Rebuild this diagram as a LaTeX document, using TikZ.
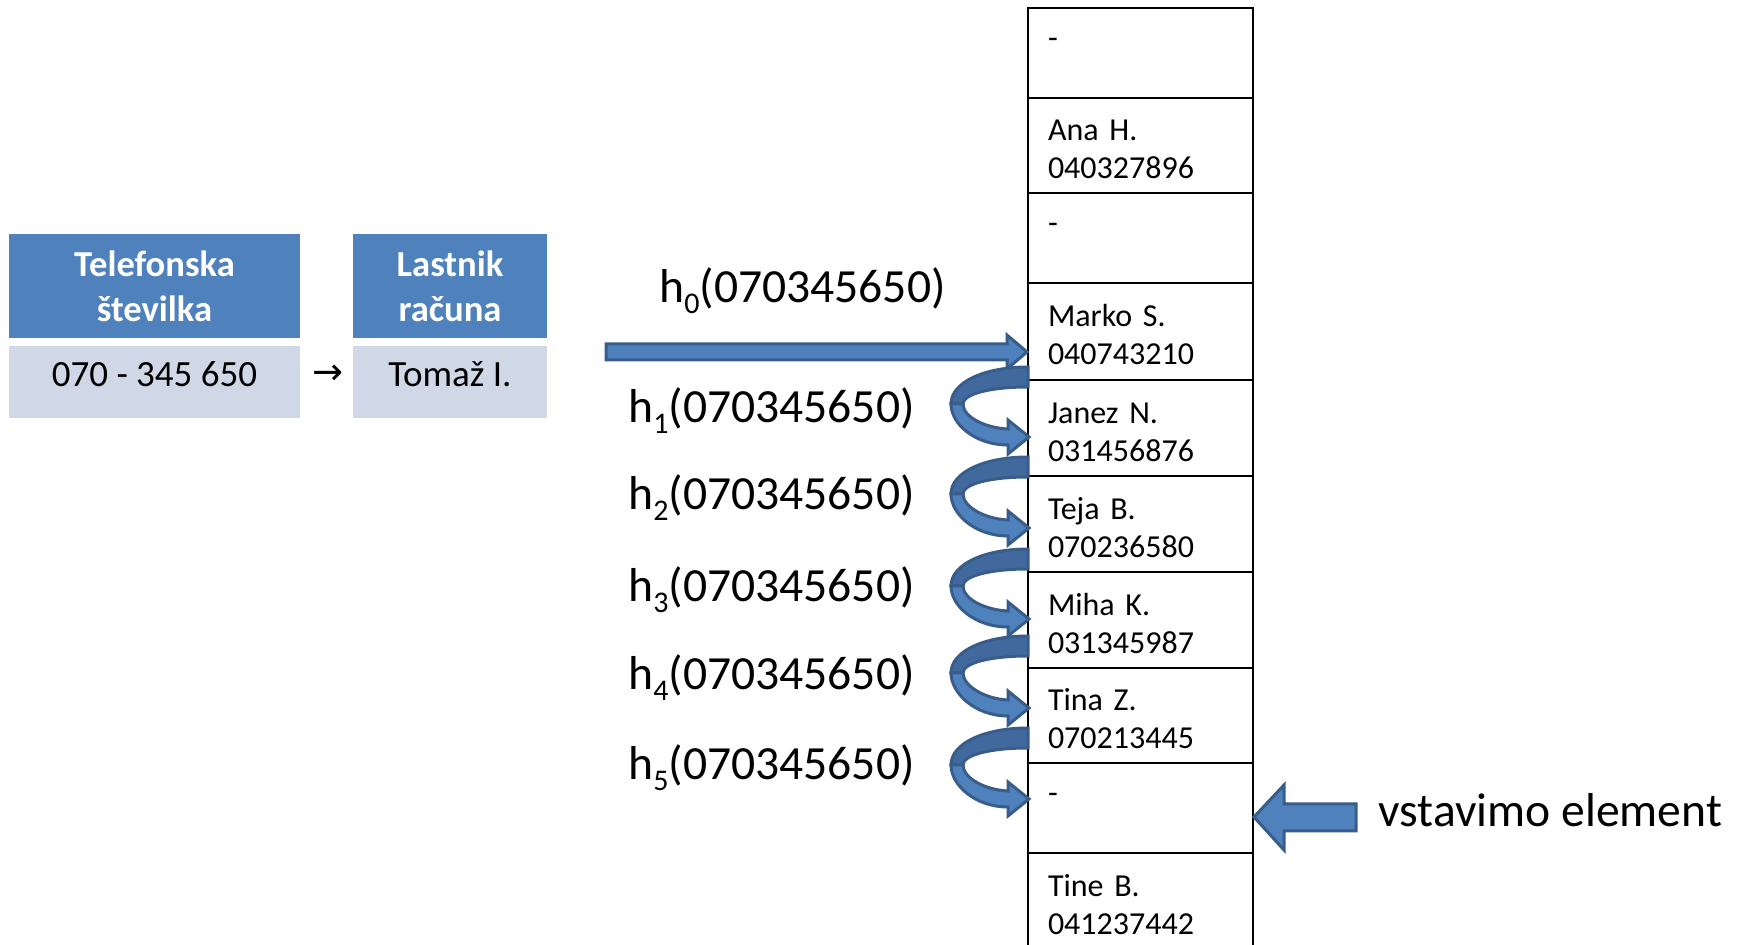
\documentclass[tikz,border=0pt]{standalone}
\usepackage{fontspec}
\setmainfont{Carlito}
\newfontfamily\arrowfont{DejaVu Sans}
\usetikzlibrary{positioning}

\definecolor{hblue}{HTML}{4F81BD}
\definecolor{hblueline}{HTML}{385D8A}
\definecolor{hblueback}{HTML}{41699E}
\definecolor{hlight}{HTML}{D0D8E8}

\newcommand\hsub[1]{\raisebox{-5.5pt}{\fontsize{15}{15}\selectfont #1}}
\newcommand\celltop{\rule{0pt}{14.5pt}}

% one probe: #1 = y of the band at the table, #2 = y of the tip
\newcommand\hcurl[2]{%
\draw[backband] (1028,#1-10) .. controls (985,#1-10) and (951,#1+5) .. (951,#1+27)
  -- (963,#1+27) .. controls (963,#1+17) and (990,#1+10) .. (1028,#1+10) -- cycle;
\draw[blockarrow] (951,#1+27) .. controls (951,#1+47) and (975,#2+8) .. (1008,#2+8)
  -- (1008,#2+17) -- (1029,#2) -- (1008,#2-17) -- (1008,#2-8)
  .. controls (985,#2-9) and (963,#1+40) .. (963,#1+27) -- cycle;
}

\tikzset{
headbox/.style={fill=hblue, text=white, font={\fontsize{18.3}{22.5}\selectfont\bfseries},
  align=center, inner sep=0pt, outer sep=0pt, minimum height=52pt},
valbox/.style={fill=hlight, font={\fontsize{18.5}{22.5}\selectfont}, inner sep=0pt,
  outer sep=0pt, minimum height=36pt, text height=12.5pt, text depth=8pt},
cell/.style={draw=black, line width=1.35pt, anchor=north west, outer sep=0pt,
  inner xsep=10pt, inner ysep=0pt, text width=92.5pt, align=left,
  font={\fontsize{16}{19}\selectfont}},
hlabel/.style={anchor=base west, inner sep=0pt, font={\fontsize{23.8}{28}\selectfont}},
blockarrow/.style={fill=hblue, draw=hblueline, line width=1.5pt},
backband/.style={fill=hblueback, draw=hblueline, line width=1.5pt}
}

\begin{document}
\begin{tikzpicture}[x=0.5pt, y=-0.5pt]

\useasboundingbox (0,0) rectangle (1742,945);

% key and value
\node [headbox, anchor=north west, minimum width=145.5pt] (tel) at (9,234) {Telefonska\\številka};
\node [headbox, right=26.5pt of tel, minimum width=97pt] (owner) {Lastnik\\računa};
\node [valbox, below=4pt of tel, minimum width=145.5pt] (telval) {070 - 345 650};
\node [valbox, below=4pt of owner, minimum width=97pt] (ownerval) {Tomaž I.};
\node [font={\fontsize{18.5}{18.5}\selectfont\arrowfont}, inner sep=0pt, right=6pt of telval,
yshift=3.5pt] (maps) {→};

% hash table
\node [cell, minimum height=45pt] (r1) at (1028,8) {\celltop-\\\phantom{0}};
\node [cell, minimum height=47.5pt, below=0pt of r1] (r2) {\celltop Ana H.\\040327896};
\node [cell, minimum height=45pt, below=0pt of r2] (r3) {\celltop-\\\phantom{0}};
\node [cell, minimum height=48.5pt, below=0pt of r3] (r4) {\celltop Marko S.\\040743210};
\node [cell, minimum height=48pt, below=0pt of r4] (r5) {\celltop Janez N.\\031456876};
\node [cell, minimum height=48pt, below=0pt of r5] (r6) {\celltop Teja B.\\070236580};
\node [cell, minimum height=48pt, below=0pt of r6] (r7) {\celltop Miha K.\\031345987};
\node [cell, minimum height=47.5pt, below=0pt of r7] (r8) {\celltop Tina Z.\\070213445};
\node [cell, minimum height=45pt, below=0pt of r8] (r9) {\celltop-\\\phantom{0}};
\node [cell, minimum height=48pt, below=0pt of r9] (r10) {\celltop Tine B.\\041237442};

% probe labels
\node [hlabel] (h0) at (659,303) {h\hsub{0}(070345650)};
\node [hlabel] (h1) at (628,423) {h\hsub{1}(070345650)};
\node [hlabel] (h2) at (628,510) {h\hsub{2}(070345650)};
\node [hlabel] (h3) at (628,602) {h\hsub{3}(070345650)};
\node [hlabel] (h4) at (628,690) {h\hsub{4}(070345650)};
\node [hlabel] (h5) at (628,780) {h\hsub{5}(070345650)};

% first probe
\coordinate (h0tip) at (1027,352);
\draw [blockarrow] (h0tip) -- ++(-20,-17) -- ++(0,9) -- ++(-401,0) -- ++(0,16)
  -- ++(401,0) -- ++(0,9) -- cycle;

% next probes
\hcurl{377}{437}
\hcurl{467}{528}
\hcurl{559}{619}
\hcurl{646}{708}
\hcurl{738}{799}

% insertion
\coordinate (instip) at (1254,817);
\draw [blockarrow] (instip) -- ++(30,-32) -- ++(0,19) -- ++(72,0) -- ++(0,27)
  -- ++(-72,0) -- ++(0,19) -- cycle;
\node [hlabel] (insert) at (1378,827) {vstavimo element};

\end{tikzpicture}
\end{document}
